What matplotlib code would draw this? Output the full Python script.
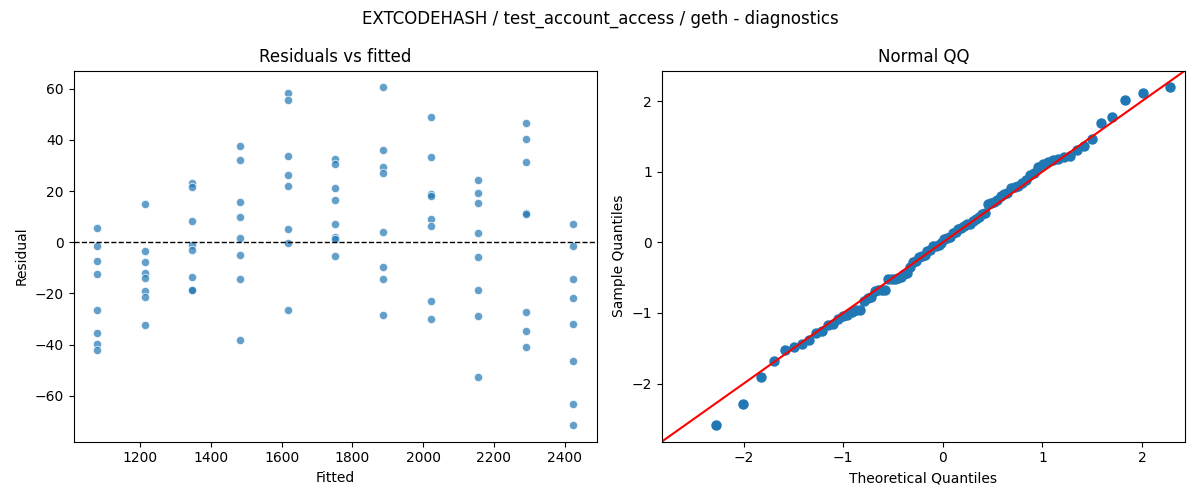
import numpy as np
import matplotlib
matplotlib.use("Agg")
import matplotlib.pyplot as plt
from statistics import NormalDist

# Fitted values (one per group) and residuals (8 per group)
fitted_levels = [1079, 1214, 1348, 1483, 1617, 1752, 1886, 2021, 2155, 2290, 2424]
res_g1 = [5.5, -1.6, -7.4, -12.5, -26.5, -35.5, -39.7, -42.1]
res_g2 = [14.8, -3.5, -7.8, -12.0, -14.0, -19.0, -21.5, -32.4]
res_g3 = [23.1, 21.5, 8.2, -1.2, -2.9, -13.7, -18.6, -18.7]
res_g4 = [37.8, 32.0, 15.6, 9.8, 1.6, -5.1, -14.4, -38.2]
res_g5 = [58.5, 55.7, 33.9, 26.1, 21.8, 5.1, -0.4, -26.5]
res_g6 = [32.5, 30.4, 21.1, 16.4, 7.0, 2.1, 1.3, -5.5]
res_g7 = [60.5, 35.9, 29.4, 27.2, 3.9, -9.8, -14.4, -28.5]
res_g8 = [48.8, 33.5, 18.9, 18.1, 9.0, 6.5, -23.0, -30.0]
res_g9 = [24.2, 19.1, 15.2, 3.5, -5.9, -18.7, -28.9, -52.7]
res_g10 = [46.8, 40.2, 31.2, 11.3, 11.2, -27.3, -34.7, -41.0]
res_g11 = [7.0, -1.3, -14.4, -21.8, -32.0, -46.4, -63.2, -71.4]

groups = [res_g1, res_g2, res_g3, res_g4, res_g5, res_g6,
          res_g7, res_g8, res_g9, res_g10, res_g11]

fitted = np.concatenate([[f] * len(g) for f, g in zip(fitted_levels, groups)])
resid = np.concatenate(groups)

fig, (ax1, ax2) = plt.subplots(1, 2, figsize=(12, 5), dpi=100)

# Residuals vs fitted
ax1.scatter(fitted, resid, s=36, color="#1f77b4", alpha=0.7,
            edgecolors="white", linewidths=0.75)
ax1.axhline(0, color="black", linestyle="--", linewidth=1)
ax1.set_xlabel("Fitted")
ax1.set_ylabel("Residual")
ax1.set_title("Residuals vs fitted")

# Normal QQ (standardized residuals vs normal quantiles)
n = len(resid)
z = (np.sort(resid) - resid.mean()) / resid.std()
nd = NormalDist()
theo = np.array([nd.inv_cdf(i / (n + 1)) for i in range(1, n + 1)])
ax2.plot(theo, z, "o", color="#1f77b4", markersize=6.5)
ylo, yhi = ax2.get_ylim()
lo, hi = ylo, yhi
ax2.plot([lo, hi], [lo, hi], color="red", linewidth=1.5)
ax2.set_xlim(lo, hi)
ax2.set_ylim(lo, hi)
ax2.set_xlabel("Theoretical Quantiles")
ax2.set_ylabel("Sample Quantiles")
ax2.set_title("Normal QQ")

fig.suptitle("EXTCODEHASH / test_account_access / geth - diagnostics")
fig.tight_layout()
fig.savefig("out.png", dpi=100)
